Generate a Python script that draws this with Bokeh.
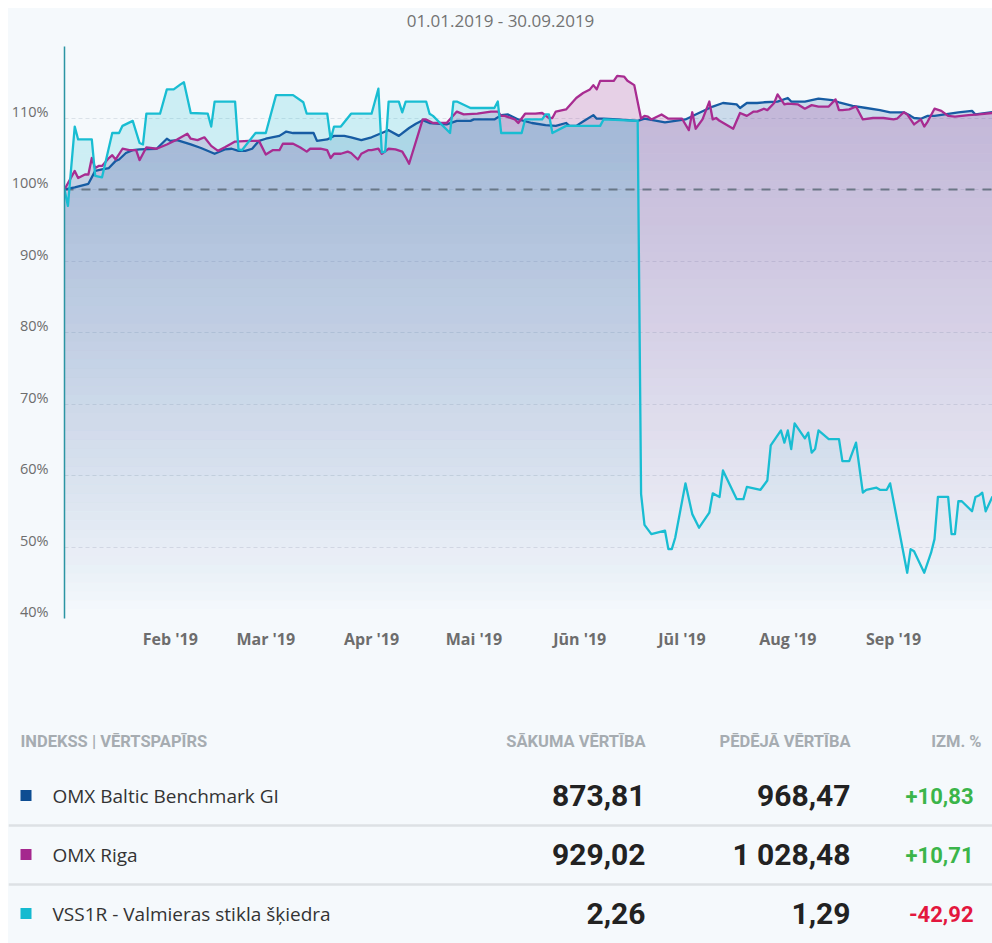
import numpy as np
import pandas as pd
from bokeh.plotting import figure
from bokeh.models import Range1d, FixedTicker, ColumnDataSource
from bokeh.layouts import column
from bokeh.embed import file_html
from bokeh.resources import INLINE
from bokeh.core.properties import value

# ---------------- data ----------------
YEAR = "2019-"
blue_dates = ["01-01","01-04","01-08","01-10","01-12","01-14","01-16","01-17","01-19","01-21","01-23","01-28",
              "01-31","02-01","02-03","02-07","02-10","02-14","02-17","02-19","02-21","02-23","02-25","02-27",
              "03-01","03-05","03-07","03-09","03-15","03-16","03-19","03-21","03-24","03-26","03-29","04-01",
              "04-04","04-06","04-09","04-12","04-14","04-16","04-18","04-23","04-26","04-30","05-01","05-07",
              "05-09","05-11","05-14","05-18","05-22","05-25","05-28","05-29","05-31","06-02","06-05","06-06",
              "06-08","06-12","06-18","06-20","06-26","07-02","07-05","07-10","07-13","07-17","07-18","07-20",
              "07-23","07-25","07-29","08-01","08-02","08-06","08-10","08-14","08-16","08-20","08-24","08-28",
              "08-31","09-04","09-06","09-07","09-09","09-11","09-13","09-16","09-20","09-24","09-25","09-30"]
blue_vals = [100.0,100.3,100.8,102.6,102.8,103.0,104.0,104.2,105.1,105.5,105.6,105.7,
             107.1,106.8,106.9,106.3,105.8,105.0,105.6,105.7,105.4,105.4,105.7,106.8,
             107.1,107.5,108.1,107.9,107.9,106.8,107.0,107.5,107.5,107.3,106.9,107.3,
             107.9,108.3,107.5,108.6,109.2,109.7,109.3,109.1,109.6,109.6,109.8,109.8,
             110.4,110.5,109.8,109.3,109.0,108.9,109.3,108.9,108.9,109.5,110.4,109.9,
             109.9,109.8,109.6,109.9,109.4,109.8,110.5,111.6,112.1,111.9,111.4,112.1,
             112.1,112.2,112.3,112.8,112.3,112.3,112.7,112.5,112.2,111.7,111.4,111.1,
             110.8,110.8,110.3,110.0,109.9,110.3,110.3,110.5,110.8,111.0,110.5,110.83]

riga_dates = ["01-01","01-04","01-05","01-07","01-08","01-09","01-10","01-11","01-12","01-14","01-15","01-16",
              "01-18","01-20","01-22","01-23","01-25","01-28","01-31","02-03","02-06","02-07","02-09","02-11",
              "02-13","02-15","02-17","02-20","02-24","02-27","03-01","03-03","03-05","03-06","03-09","03-11",
              "03-13","03-14","03-17","03-19","03-20","03-21","03-23","03-25","03-26","03-28","03-29","03-31",
              "04-01","04-03","04-04","04-06","04-08","04-10","04-11","04-12","04-16","04-17","04-19","04-23",
              "04-26","04-28","05-02","05-06","05-08","05-09","05-10","05-13","05-14","05-16","05-19","05-21",
              "05-23","05-24","05-25","05-28","05-31","06-02","06-04","06-05","06-06","06-07","06-11","06-12",
              "06-14","06-15","06-17","06-19","06-20","06-21","06-22","06-25","06-27","07-01","07-03","07-04",
              "07-05","07-07","07-09","07-10","07-11","07-12","07-16","07-18","07-20","07-22","07-23","07-25",
              "07-26","07-28","07-29","07-31","08-01","08-04","08-06","08-08","08-10","08-13","08-15","08-16",
              "08-17","08-19","08-21","08-23","08-26","08-29","09-01","09-02","09-04","09-05","09-07","09-09",
              "09-10","09-11","09-13","09-15","09-17","09-19","09-23","09-26","09-30"]
riga_vals = [100.0,102.6,101.6,102.1,102.1,104.4,103.0,103.3,103.3,104.4,104.8,104.2,
             105.7,105.5,105.5,104.1,105.9,105.7,106.3,107.0,107.8,107.1,106.9,107.3,
             106.1,105.4,105.9,106.7,106.8,106.8,104.9,105.5,105.5,106.4,106.4,105.9,
             105.3,105.7,105.7,105.5,104.4,105.0,105.0,105.3,105.1,104.2,105.0,105.5,
             105.5,105.7,105.0,105.7,105.6,105.3,104.5,103.6,109.8,109.8,109.3,109.3,
             110.9,110.5,110.6,110.9,110.9,110.3,110.3,109.8,109.3,110.6,110.6,110.7,
             110.0,110.0,110.9,111.2,112.8,113.5,114.0,114.6,114.0,115.2,115.2,115.9,
             115.8,115.2,114.6,109.9,110.3,110.2,109.8,110.5,109.9,109.9,108.3,110.8,
             108.5,109.8,112.3,109.8,110.0,109.6,108.5,110.7,110.3,110.9,110.9,111.3,
             111.1,112.1,113.3,111.9,112.0,111.9,111.3,111.8,111.6,111.6,112.6,111.1,
             111.1,111.2,111.6,109.8,110.0,110.0,109.8,109.9,110.8,110.5,109.1,109.8,
             108.8,109.5,111.3,111.0,110.3,110.2,110.4,110.5,110.71]

vss_dates = ["01-01","01-02","01-04","01-05","01-09","01-10","01-12","01-15","01-17","01-18","01-21","01-23",
             "01-24","01-25","01-29","01-31","02-02","02-04","02-05","02-07","02-12","02-13","02-14","02-20",
             "02-21","02-22","02-26","03-01","03-04","03-09","03-12","03-13","03-19","03-20","03-21","03-23",
             "03-26","04-01","04-03","04-04","04-05","04-06","04-09","04-10","04-11","04-17","04-18","04-19",
             "04-24","04-25","04-26","04-30","05-07","05-08","05-09","05-15","05-16","05-21","05-22","05-23",
             "05-24","05-28","06-07","06-08","06-18","06-19","06-20","06-22","06-26","06-27","06-28","06-29",
             "07-02","07-04","07-06","07-09","07-10","07-12","07-13","07-17","07-19","07-20","07-24","07-26",
             "07-27","07-30","07-31","08-01","08-02","08-03","08-06","08-07","08-08","08-09","08-10","08-13",
             "08-16","08-17","08-19","08-21","08-23","08-24","08-27","08-28","08-30","08-31","09-05","09-06",
             "09-07","09-10","09-12","09-13","09-14","09-17","09-18","09-19","09-20","09-21","09-24","09-25",
             "09-26","09-27","09-28","09-30"]
vss_vals = [100.0,97.7,108.8,107.0,107.0,101.9,101.7,107.9,107.9,108.9,109.6,106.5,
            106.3,110.6,110.6,114.0,114.0,114.7,115.0,110.7,110.6,108.8,112.3,112.3,
            105.6,105.5,107.9,107.9,113.2,113.2,112.2,110.6,110.6,107.0,108.8,108.8,
            110.6,110.6,114.1,105.2,105.3,112.3,112.3,110.8,112.3,112.3,110.6,110.3,
            107.9,112.3,112.3,111.4,111.4,112.3,107.9,107.9,109.8,109.8,110.5,110.5,
            107.9,108.9,108.9,109.8,109.6,57.4,53.1,51.8,52.3,49.7,49.7,51.3,
            58.9,54.6,52.7,54.8,57.5,57.0,60.7,56.7,56.7,58.4,58.0,59.3,
            64.2,66.3,64.6,66.3,63.7,67.3,65.2,66.0,63.2,63.7,66.3,65.1,
            65.1,62.0,62.0,64.6,57.6,58.0,58.3,58.0,58.0,58.9,46.4,49.7,
            49.4,46.4,49.2,51.1,57.0,57.0,51.8,51.8,56.4,56.4,55.0,57.0,
            57.2,57.6,55.0,57.08]

series_names = ["OMX Baltic Benchmark GI", "OMX Riga", "VSS1R - Valmieras stikla šķiedra"]
series_colors = ["#175ca3", "#a82c91", "#19bdd2"]
marker_colors = ["#0d4d92", "#a5288e", "#14bad0"]
start_values = [873.81, 929.02, 2.26]
last_values = [968.47, 1028.48, 1.29]
change_pct = [10.83, 10.71, -42.92]

title_text = "01.01.2019 - 30.09.2019"
range_start, range_end = "2019-01-01", "2019-09-30"
month_ticks = ["2019-02-01", "2019-03-01", "2019-04-01", "2019-05-01",
               "2019-06-01", "2019-07-01", "2019-08-01", "2019-09-01"]
month_labels = ["Feb '19", "Mar '19", "Apr '19", "Mai '19", "Jūn '19", "Jūl '19", "Aug '19", "Sep '19"]
y_ticks = [40, 50, 60, 70, 80, 90, 100, 110]
y_labels = ["40%", "50%", "60%", "70%", "80%", "90%", "100%", "110%"]
grid_levels = [40, 50, 60, 70, 80, 90, 100, 110, 120]
table_header = ["INDEKSS | VĒRTSPAPĪRS", "SĀKUMA VĒRTĪBA", "PĒDĒJĀ VĒRTĪBA", "IZM. %"]

# ---------------- helpers ----------------
BG = "#f5f9fc"
FONT = "Open Sans"
NUMF = "Roboto"
W = 984


def to_ms(strings):
    return pd.to_datetime(strings).values.astype("datetime64[ms]").astype("int64").astype(float)


def refine(xs, vs, levels):
    """insert the exact crossings of the polyline with the band levels (same geometry)"""
    ox, ov = [xs[0]], [vs[0]]
    for i in range(1, len(xs)):
        xa, va, xb, vb = xs[i - 1], vs[i - 1], xs[i], vs[i]
        if vb != va:
            lo, hi = min(va, vb), max(va, vb)
            ts = sorted((L - va) / (vb - va) for L in levels if lo < L < hi)
            for tt in ts:
                ox.append(xa + tt * (xb - xa))
                ov.append(va + tt * (vb - va))
        ox.append(xb)
        ov.append(vb)
    return np.array(ox), np.array(ov)


def plain(fig):
    fig.grid.visible = False
    return fig


# ---------------- title strip ----------------
TH0 = 38
tf = plain(figure(width=W, height=TH0, x_range=Range1d(0, W), y_range=Range1d(TH0, 0),
                  x_axis_location=None, y_axis_location=None, toolbar_location=None,
                  output_backend="svg", background_fill_color=BG, border_fill_color=BG,
                  outline_line_color=None, min_border=0, frame_align=False))
tf.text(x=[W / 2], y=[12], text=[title_text], text_align="center", text_baseline="middle",
        text_font=value(FONT), text_font_size="17px", text_color="#737373")

# ---------------- chart ----------------
x0, x1 = to_ms([range_start, range_end])
Y0, Y1 = 40, 120
CH = 634
p = figure(width=W, height=CH, x_axis_type="datetime",
           x_range=Range1d(x0, x1), y_range=Range1d(Y0, Y1),
           toolbar_location=None, output_backend="svg",
           background_fill_color=BG, border_fill_color=BG, outline_line_color=None,
           min_border_left=56, min_border_right=0, min_border_top=0, min_border_bottom=62,
           frame_align=False)

p.xgrid.visible = False
p.ygrid.ticker = FixedTicker(ticks=grid_levels)
p.ygrid.grid_line_color = "#dbe2e9"
p.ygrid.grid_line_dash = "4 3"
p.ygrid.grid_line_width = 1

mt = to_ms(month_ticks)
p.xaxis.ticker = FixedTicker(ticks=[float(m) for m in mt])
p.xaxis.major_label_overrides = {float(m): lab for m, lab in zip(mt, month_labels)}
p.xaxis.axis_line_color = None
p.xaxis.major_tick_line_color = None
p.xaxis.minor_tick_line_color = None
p.xaxis.major_tick_out = 0
p.xaxis.major_tick_in = 0
p.xaxis.minor_tick_out = 0
p.xaxis.axis_label_standoff = 0
p.xaxis.major_label_standoff = 9
p.xaxis.major_label_text_font = FONT
p.xaxis.major_label_text_font_size = "16px"
p.xaxis.major_label_text_font_style = "bold"
p.xaxis.major_label_text_color = "#6d6d6d"

# y axis labels sit slightly above their grid line, as in the original
px_per_unit = (CH - 62) / (Y1 - Y0)
lab_shift = round(7 / px_per_unit, 3)
ytick_pos = [round(v + lab_shift, 3) for v in y_ticks]
p.yaxis.ticker = FixedTicker(ticks=ytick_pos)
p.yaxis.major_label_overrides = {tk: lab for tk, lab in zip(ytick_pos, y_labels)}
p.yaxis.axis_line_color = "#2b95a3"
p.yaxis.axis_line_width = 1.5
p.yaxis.major_tick_line_color = None
p.yaxis.minor_tick_line_color = None
p.yaxis.major_tick_out = 0
p.yaxis.major_tick_in = 0
p.yaxis.minor_tick_out = 0
p.yaxis.axis_label_standoff = 0
p.yaxis.major_label_standoff = 16
p.yaxis.major_label_text_font = FONT
p.yaxis.major_label_text_font_size = "14.5px"
p.yaxis.major_label_text_color = "#6d6d6d"

# gradient-like area fills (stronger near the top, fading to the bottom)
edges = list(np.arange(40, 110.001, 1.25)) + [125.0]
base_alpha = [0.19, 0.2, 0.19]
series = [(blue_dates, blue_vals), (riga_dates, riga_vals), (vss_dates, vss_vals)]
refined = []
for (dts, vals) in series:
    xs = to_ms([YEAR + d for d in dts])
    rx, rv = refine(xs, np.array(vals, float), edges)
    refined.append((xs, np.array(vals, float), rx, rv))

for si, (xs, vs, rx, rv) in enumerate(refined):
    for k in range(len(edges) - 1):
        lo, hi = edges[k], edges[k + 1]
        top = np.clip(rv, lo, hi)
        if np.all(top <= lo):
            continue
        mid = (lo + hi) / 2
        f = min(1.0, (mid - 40) / 70.0)
        src = ColumnDataSource(dict(x=rx, y1=np.full_like(rv, lo), y2=top))
        p.varea(x="x", y1="y1", y2="y2", source=src,
                fill_color=series_colors[si], fill_alpha=base_alpha[si] * f)

p.hspan(y=[100], line_color="#5d6b79", line_width=2, line_dash="9 8", line_alpha=0.85)

for si, (xs, vs, rx, rv) in enumerate(refined):
    p.line(x=xs, y=vs, line_color=series_colors[si], line_width=2.3, line_join="round")

# ---------------- table ----------------
TH = 263
t = plain(figure(width=W, height=TH, x_range=Range1d(0, W), y_range=Range1d(TH, 0),
                 x_axis_location=None, y_axis_location=None, toolbar_location=None,
                 output_backend="svg", background_fill_color=BG, border_fill_color=BG,
                 outline_line_color=None, min_border=0, frame_align=False))

head_y = 61
row_y = [115 + 59 * i for i in range(len(series_names))]
col_start_x, col_last_x, col_chg_x = 637, 842, 965

hsrc = ColumnDataSource(dict(x=[12, col_start_x, col_last_x, 973], y=[head_y] * 4, text=table_header,
                             align=["left", "right", "right", "right"]))
t.text(x="x", y="y", text="text", text_align="align", source=hsrc, text_baseline="middle",
       text_font=value(NUMF), text_font_style="bold", text_font_size="16.5px", text_color="#a6acb1")

t.hspan(y=[(row_y[i] + row_y[i + 1]) / 2 for i in range(len(row_y) - 1)],
        line_color="#dde1e5", line_width=2.5)


def fmt(v):
    s = f"{v:,.2f}"
    return s.replace(",", " ").replace(".", ",")


def fmt_chg(v):
    return ("+" if v >= 0 else "-") + fmt(abs(v))


t.scatter(x=[17.5] * 3, y=row_y, marker="square", size=11, fill_color=marker_colors, line_color=None)
t.text(x=[44] * 3, y=row_y, text=series_names, text_baseline="middle",
       text_font=value(FONT), text_font_size="19px", text_color="#333333")
t.text(x=[col_start_x] * 3, y=row_y, text=[fmt(v) for v in start_values], text_align="right",
       text_baseline="middle", text_font=value(NUMF), text_font_style="bold",
       text_font_size="30px", text_color="#222222")
t.text(x=[col_last_x] * 3, y=row_y, text=[fmt(v) for v in last_values], text_align="right",
       text_baseline="middle", text_font=value(NUMF), text_font_style="bold",
       text_font_size="30px", text_color="#222222")
t.text(x=[col_chg_x] * 3, y=row_y, text=[fmt_chg(v) for v in change_pct], text_align="right",
       text_baseline="middle", text_font=value(NUMF), text_font_style="bold",
       text_font_size="22px", text_color=["#3bb54a" if v >= 0 else "#e3173e" for v in change_pct])

layout = column(tf, p, t, spacing=0, margin=(8, 0, 0, 8), styles={"background-color": BG})
open("out.html", "w").write(file_html(layout, INLINE))
